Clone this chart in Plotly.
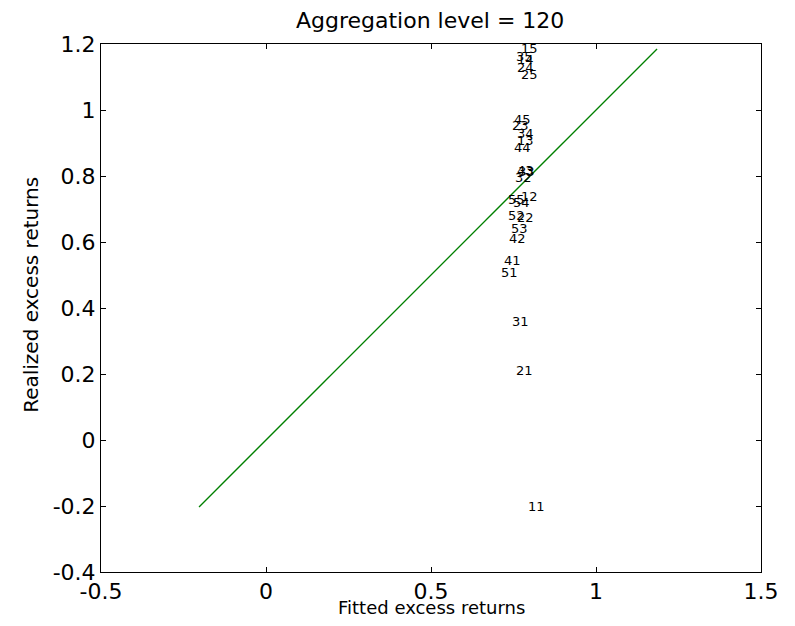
import plotly.graph_objects as go

labels = ["15", "35", "14", "24", "25",
          "45", "23", "34", "13", "44",
          "43", "33", "32",
          "55", "12", "54", "52", "22", "53", "42",
          "41", "51", "31", "21", "11"]
fitted = [0.775, 0.760, 0.765, 0.763, 0.775,
          0.755, 0.748, 0.764, 0.764, 0.755,
          0.764, 0.767, 0.758,
          0.736, 0.775, 0.752, 0.737, 0.764, 0.745, 0.739,
          0.724, 0.714, 0.748, 0.762, 0.798]
realized = [1.185, 1.162, 1.152, 1.128, 1.108,
            0.970, 0.952, 0.930, 0.909, 0.885,
            0.818, 0.815, 0.794,
            0.730, 0.739, 0.721, 0.679, 0.673, 0.642, 0.612,
            0.545, 0.509, 0.358, 0.212, -0.203]

x_ticks = [-0.5, 0, 0.5, 1, 1.5]
x_ticktext = ["-0.5", "0", "0.5", "1", "1.5"]
y_ticks = [-0.4, -0.2, 0, 0.2, 0.4, 0.6, 0.8, 1.0, 1.2]
y_ticktext = ["-0.4", "-0.2", "0", "0.2", "0.4", "0.6", "0.8", "1", "1.2"]

line_x = [min(realized), max(realized)]
line_y = [min(realized), max(realized)]

FONT = "DejaVu Sans"

fig = go.Figure()
fig.add_trace(go.Scatter(x=line_x, y=line_y, mode="lines",
                         line=dict(color="#008000", width=1.3), hoverinfo="skip"))
for lab, fx, ry in zip(labels, fitted, realized):
    fig.add_annotation(x=fx, y=ry, text=lab, showarrow=False,
                       xanchor="left", yanchor="middle", xshift=-2,
                       font=dict(family=FONT, size=13, color="black"),
                       borderpad=0)

fig.add_annotation(xref="paper", yref="paper", x=0.5, y=-0.068,
                   text="Fitted excess returns", showarrow=False,
                   xanchor="center", yanchor="middle",
                   font=dict(family=FONT, size=18, color="black"))
fig.add_annotation(xref="paper", yref="paper", x=-0.106, y=0.525,
                   text="Realized excess returns", showarrow=False, textangle=-90,
                   xanchor="center", yanchor="middle",
                   font=dict(family=FONT, size=20, color="black"))

axis_common = dict(showline=True, linecolor="black", linewidth=1, mirror="ticks",
                   ticks="inside", ticklen=5, tickcolor="black", showgrid=False,
                   zeroline=False,
                   tickfont=dict(family=FONT, size=22, color="black"))
fig.update_xaxes(range=[-0.5, 1.5], tickmode="array", tickvals=x_ticks, ticktext=x_ticktext,
                 **axis_common)
fig.update_yaxes(range=[-0.4, 1.2], tickmode="array", tickvals=y_ticks, ticktext=y_ticktext,
                 **axis_common)
fig.update_layout(
    width=795, height=626,
    margin=dict(l=93, r=42, t=36, b=62),
    paper_bgcolor="white", plot_bgcolor="white",
    showlegend=False,
    title=dict(text="Aggregation level = 120", x=0.531, xanchor="center", y=0.981, yanchor="middle",
               font=dict(family=FONT, size=22, color="black")),
)
fig.write_html("out.html")
